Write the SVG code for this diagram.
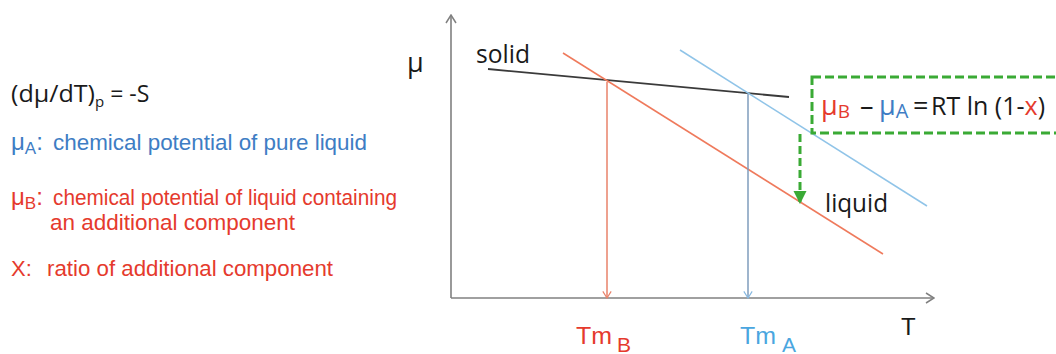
<svg xmlns="http://www.w3.org/2000/svg" width="1056" height="354" viewBox="0 0 1056 354">
<style>
.cal{font-family:"Open Sans","Noto Sans",sans-serif;fill:#1a1a1a}
.ar{font-family:"Liberation Sans",Arial,sans-serif}
.red{fill:#e53a2d}
.blue{fill:#3e7dc4}
.lblue{fill:#4aa6df}
.blk{fill:#1a1a1a}
.axis{stroke:#808080;stroke-width:1.6;fill:none}
</style>
<defs>
<marker id="chevA" viewBox="0 0 10 12" refX="9" refY="6" markerWidth="10" markerHeight="12" markerUnits="userSpaceOnUse" orient="auto">
<path d="M1,1 L9,6 L1,11" fill="none" stroke="#808080" stroke-width="1.5"/>
</marker>
<marker id="chevR" viewBox="0 0 10 12" refX="9" refY="6" markerWidth="9" markerHeight="10" markerUnits="userSpaceOnUse" orient="auto">
<path d="M1,1 L9,6 L1,11" fill="none" stroke="#e8826a" stroke-width="1.4"/>
</marker>
<marker id="chevB" viewBox="0 0 10 12" refX="9" refY="6" markerWidth="9" markerHeight="10" markerUnits="userSpaceOnUse" orient="auto">
<path d="M1,1 L9,6 L1,11" fill="none" stroke="#86b8e0" stroke-width="1.4"/>
</marker>
<marker id="gtri" viewBox="0 0 12 12" refX="11" refY="6" markerWidth="13" markerHeight="14" markerUnits="userSpaceOnUse" orient="auto">
<path d="M0,0 L12,6 L0,12 Z" fill="#3aaa35"/>
</marker>
</defs>

<g id="legend">
<text class="cal" x="11" y="102" font-size="23"><tspan textLength="84" lengthAdjust="spacingAndGlyphs">(dμ/dT)</tspan><tspan font-size="15" dy="5">p</tspan><tspan dy="-5"> = -S</tspan></text>
<text class="ar blue" x="11" y="150" font-size="24">μ<tspan font-size="17" dy="4">A</tspan><tspan dy="-4">:</tspan></text>
<text class="ar blue" x="53" y="150" font-size="22" textLength="314" lengthAdjust="spacingAndGlyphs">chemical potential of pure liquid</text>
<text class="ar red" x="11" y="205" font-size="24">μ<tspan font-size="17" dy="4">B</tspan><tspan dy="-4">:</tspan></text>
<text class="ar red" x="53" y="205" font-size="22" textLength="344" lengthAdjust="spacingAndGlyphs">chemical potential of liquid containing</text>
<text class="ar red" x="50" y="230" font-size="22" textLength="245" lengthAdjust="spacingAndGlyphs">an additional component</text>
<text class="ar red" x="11" y="276" font-size="22">X:</text>
<text class="ar red" x="47" y="276" font-size="22" textLength="286" lengthAdjust="spacingAndGlyphs">ratio of additional component</text>
</g>

<g id="axes">
<line class="axis" x1="451" y1="298" x2="451" y2="15" marker-end="url(#chevA)"/>
<line class="axis" x1="451" y1="298" x2="934" y2="298" marker-end="url(#chevA)"/>
<text class="cal" x="407" y="72" font-size="27">μ</text>
<text class="ar blk" x="901" y="335" font-size="24">T</text>
</g>

<g id="curves">
<line id="solid-line" x1="488" y1="69" x2="789" y2="97" stroke="#3a3a3a" stroke-width="1.8"/>
<line id="liquid-B" x1="563" y1="53" x2="883" y2="254" stroke="#ef7a5c" stroke-width="1.5"/>
<line id="liquid-A" x1="680" y1="50" x2="927" y2="206" stroke="#90c4e8" stroke-width="1.5"/>
<text class="cal" x="476" y="63" font-size="26" textLength="54" lengthAdjust="spacingAndGlyphs">solid</text>
<text class="cal" x="825" y="212" font-size="26" textLength="63" lengthAdjust="spacingAndGlyphs">liquid</text>
</g>

<g id="connectors">
<line x1="607" y1="82" x2="607" y2="298" stroke="#e8826a" stroke-width="1.5" marker-end="url(#chevR)"/>
<line x1="748" y1="94" x2="748" y2="298" stroke="#7f9cbc" stroke-width="1.5" marker-end="url(#chevB)"/>
<line x1="800" y1="134" x2="800" y2="203" stroke="#3aaa35" stroke-width="3" stroke-dasharray="8 4" marker-end="url(#gtri)"/>
</g>

<g id="tm-labels">
<text class="ar red" x="576" y="344" font-size="24" textLength="36" lengthAdjust="spacingAndGlyphs">Tm</text>
<text class="ar red" x="617" y="352" font-size="21">B</text>
<text class="ar lblue" x="740" y="344" font-size="24" textLength="36" lengthAdjust="spacingAndGlyphs">Tm</text>
<text class="ar lblue" x="782" y="352" font-size="21">A</text>
</g>

<g id="equation-box">
<rect x="812" y="77" width="260" height="56" fill="none" stroke="#3aaa35" stroke-width="3" stroke-dasharray="9 4"/>
<text class="cal" x="821" y="115" font-size="27"><tspan class="red">μ</tspan><tspan class="red" font-size="19" dy="3">B</tspan><tspan dy="-3" x="860">–</tspan><tspan class="blue" x="879">μ</tspan><tspan class="blue" font-size="20" dy="3">A</tspan><tspan dy="-3" x="913">=</tspan><tspan x="931" font-size="25">RT ln (1-</tspan><tspan class="red" font-size="25">x</tspan><tspan font-size="25">)</tspan></text>
</g>
</svg>
